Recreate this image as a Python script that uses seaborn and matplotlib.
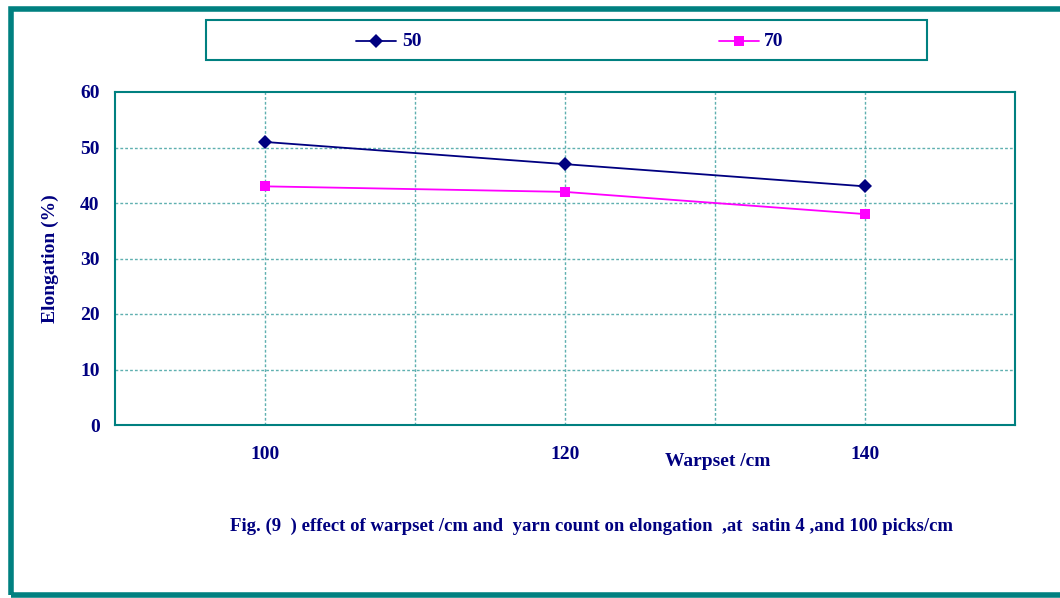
import matplotlib
matplotlib.use("Agg")
import matplotlib.pyplot as plt
import seaborn as sns
import pandas as pd
from matplotlib.patches import Rectangle
from matplotlib.lines import Line2D

warpset = [100, 120, 140]
series_names = ["50", "70"]
elong_50 = [51, 47, 43]
elong_70 = [43, 42, 38]
y_ticks = [0, 10, 20, 30, 40, 50, 60]
x_labels = ["100", "120", "140"]

df = pd.DataFrame({
    "Warpset": warpset * 2,
    "Elongation": elong_50 + elong_70,
    "Count": [series_names[0]] * 3 + [series_names[1]] * 3,
})

sns.set_style("white")
plt.rcParams['font.family'] = ['Liberation Serif', 'DejaVu Serif']
navy = "#000080"
teal = "#008080"
grid_c = "#5fb0b0"

fig = plt.figure(figsize=(10.6, 5.98), dpi=100)
ax = fig.add_axes([115/1060, 1-425/598, 900/1060, 333/598])

palette = {"50": navy, "70": "#ff00ff"}
markers = {"50": "D", "70": "s"}
sns.lineplot(data=df, x="Warpset", y="Elongation", hue="Count", style="Count",
             palette=palette, markers=markers, dashes=False, markersize=7,
             linewidth=1.3, ax=ax, legend=False, markeredgewidth=0)

ax.set_xlim(90, 150)
ax.set_ylim(0, 60)
ax.set_yticks(y_ticks)
ax.set_yticklabels([str(v) for v in y_ticks], fontsize=14, fontweight="bold", color=navy)
ax.set_xticks([90, 110, 130, 150])
ax.set_xticklabels([])
ax.set_xticks(warpset, minor=True)
ax.set_xticklabels(x_labels, minor=True, fontsize=14, fontweight="bold", color=navy)
ax.tick_params(axis="x", which="minor", length=0, pad=15)
ax.tick_params(axis="x", which="major", length=5, color=teal, direction="out")
ax.tick_params(axis="y", length=5, color=teal, direction="out", pad=6)

for xv in [100, 110, 120, 130, 140]:
    ax.axvline(xv, color=grid_c, linestyle=(0, (2, 1.5)), linewidth=1, zorder=0)
for yv in [10, 20, 30, 40, 50]:
    ax.axhline(yv, color=grid_c, linestyle=(0, (2, 1.5)), linewidth=1, zorder=0)

for s in ax.spines.values():
    s.set_visible(True)
    s.set_color(teal)
    s.set_linewidth(1.5)

ax.set_xlabel("")
ax.set_ylabel("Elongation (%)", fontsize=14, fontweight="bold", color=navy, labelpad=15)
fig.text(718/1060, 1-462/598, "Warpset /cm", ha="center", va="center",
         fontsize=14, fontweight="bold", color=navy)
fig.text(592/1060, 1-526/598,
         "Fig. (9  ) effect of warpset /cm and  yarn count on elongation  ,at  satin 4 ,and 100 picks/cm",
         ha="center", va="center", fontsize=13.5, fontweight="bold", color=navy)

# legend box
fig.patches.append(Rectangle((206/1060, 1-60/598), 721/1060, 40/598, transform=fig.transFigure,
                             fill=False, edgecolor=teal, linewidth=1.5))
fig.lines.append(Line2D([356/1060, 396/1060], [1-41/598, 1-41/598], transform=fig.transFigure,
                        color=navy, linewidth=1.3))
fig.lines.append(Line2D([376/1060], [1-41/598], transform=fig.transFigure,
                        color=navy, marker="D", markersize=7.5, linestyle="none", markeredgewidth=0))
fig.text(402/1060, 1-41/598, series_names[0], ha="left", va="center", fontsize=14,
         fontweight="bold", color=navy)
fig.lines.append(Line2D([719/1060, 759/1060], [1-41/598, 1-41/598], transform=fig.transFigure,
                        color="#ff00ff", linewidth=1.3))
fig.lines.append(Line2D([739/1060], [1-41/598], transform=fig.transFigure,
                        color="#ff00ff", marker="s", markersize=7.5, linestyle="none", markeredgewidth=0))
fig.text(764/1060, 1-41/598, series_names[1], ha="left", va="center", fontsize=14,
         fontweight="bold", color=navy)

# outer frame
fig.patches.append(Rectangle((11/1060, 3/598), 1060/1060, 586/598, transform=fig.transFigure,
                             fill=False, edgecolor=teal, linewidth=4))

fig.savefig("out.png", dpi=100)
